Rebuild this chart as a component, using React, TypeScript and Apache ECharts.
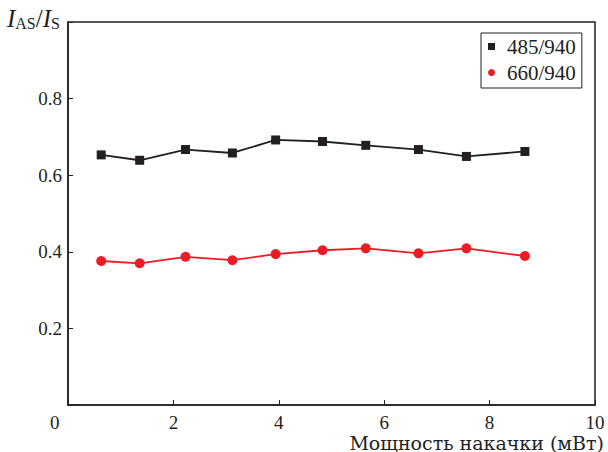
import React, { useEffect, useRef } from "react";
import * as echarts from "echarts";

const power485 = [0.63, 1.36, 2.23, 3.12, 3.94, 4.83, 5.65, 6.65, 7.56, 8.67];
const ratio485 = [0.653, 0.639, 0.667, 0.658, 0.692, 0.688, 0.678, 0.667, 0.649, 0.662];
const power660 = [0.63, 1.36, 2.23, 3.12, 3.94, 4.83, 5.65, 6.65, 7.56, 8.67];
const ratio660 = [0.376, 0.37, 0.387, 0.378, 0.394, 0.404, 0.409, 0.396, 0.409, 0.389];
const seriesNames = ["485/940", "660/940"];
const xAxisTitle = "Мощность накачки (мВт)";

const FONT = "Liberation Serif";
const BLACK = "#231f20";
const RED = "#ec1c24";

export default function App() {
  const ref = useRef<HTMLDivElement>(null);
  useEffect(() => {
    if (!ref.current) return;
    const chart = echarts.init(ref.current, undefined, { renderer: "svg" });
    chart.setOption({
      animation: false,
      backgroundColor: "#fff",
      textStyle: { fontFamily: FONT },
      grid: {
        left: 68,
        right: 13,
        top: 22,
        bottom: 47,
        show: true,
        borderColor: BLACK,
        borderWidth: 1.5,
      },
      legend: {
        orient: "vertical",
        left: 481,
        top: 33,
        width: 104,
        padding: [3, 6, 5, 7],
        itemGap: 5,
        itemWidth: 7,
        itemHeight: 7,
        borderColor: BLACK,
        borderWidth: 1,
        textStyle: { fontFamily: FONT, fontSize: 21, color: BLACK, padding: [0, 0, 0, 7] },
        data: [
          { name: seriesNames[0], icon: "rect" },
          { name: seriesNames[1], icon: "circle" },
        ],
      },
      xAxis: {
        type: "value",
        min: 0,
        max: 10,
        interval: 2,
        axisLine: { lineStyle: { color: BLACK, width: 1.5 } },
        axisTick: { inside: true, length: 5, lineStyle: { color: BLACK, width: 1 } },
        axisLabel: {
          margin: 8,
          fontSize: 19,
          lineHeight: 19,
          fontFamily: FONT,
          color: BLACK,
          formatter: (v: number) => (v === 0 ? "" : String(v)),
        },
        splitLine: { show: false },
      },
      yAxis: {
        type: "value",
        min: 0,
        max: 1,
        interval: 0.2,
        axisLine: { show: true, lineStyle: { color: BLACK, width: 1.5 } },
        axisTick: { show: true, inside: true, length: 5, lineStyle: { color: BLACK, width: 1 } },
        axisLabel: {
          margin: 6,
          fontSize: 19,
          fontFamily: FONT,
          color: BLACK,
          formatter: (v: number) => (v <= 0 || v >= 1 ? "" : v.toFixed(1)),
        },
        splitLine: { show: false },
      },
      graphic: [
        {
          type: "text",
          left: 50,
          top: 413,
          style: { text: "0", fontSize: 19, lineHeight: 19, fontFamily: FONT, fill: BLACK },
        },
        {
          type: "text",
          right: 4,
          top: 433,
          style: { text: xAxisTitle, fontSize: 19, lineHeight: 19, fontFamily: "DejaVu Serif", fill: BLACK },
        },
        {
          type: "text",
          left: 7,
          top: 6,
          style: {
            text: "{i|I}{s|AS}{n|/}{i|I}{s|S}",
            fontFamily: FONT,
            fill: BLACK,
            rich: {
              i: { fontSize: 25, fontStyle: "italic", fontFamily: FONT, fill: BLACK, verticalAlign: "bottom" },
              n: { fontSize: 25, fontFamily: FONT, fill: BLACK, verticalAlign: "bottom" },
              s: { fontSize: 16, fontFamily: FONT, fill: BLACK, verticalAlign: "bottom" },
            },
          },
        },
      ],
      series: [
        {
          name: seriesNames[0],
          type: "line",
          data: power485.map((x, i) => [x, ratio485[i]]),
          symbol: "rect",
          symbolSize: 9,
          itemStyle: { color: BLACK },
          lineStyle: { color: BLACK, width: 1.8 },
        },
        {
          name: seriesNames[1],
          type: "line",
          data: power660.map((x, i) => [x, ratio660[i]]),
          symbol: "circle",
          symbolSize: 10,
          itemStyle: { color: RED },
          lineStyle: { color: RED, width: 1.8 },
        },
      ],
    });
    return () => chart.dispose();
  }, []);
  return <div ref={ref} style={{ position: "absolute", left: 0, top: 0, width: 608, height: 452 }} />;
}
